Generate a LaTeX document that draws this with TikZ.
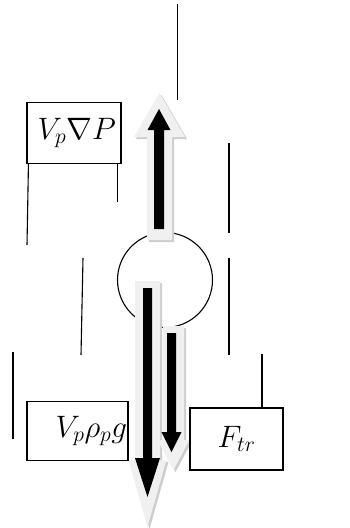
\RequirePackage{fix-cm}
\documentclass[tikz,border=0pt]{standalone}
\usepackage{xcolor}
\usepackage{tikz}
\usetikzlibrary{calc}
\definecolor{halogray}{RGB}{240, 240, 240}
\definecolor{shadowgray}{RGB}{205, 205, 205}

\tikzset{
    forcebox/.style={draw, line width=1.1pt, inner sep=0pt, font=\fontsize{31}{36}\selectfont},
    guide/.style={line width=1.1pt},
}

% fat arrow: style, x, tail y, head base y, tip y, shaft half width, head half width
\newcommand{\forcearrow}[7]{%
    \fill[#1] (#2-#6,#3) -- (#2+#6,#3) -- (#2+#6,#4) -- (#2+#7,#4) -- (#2,#5)
        -- (#2-#7,#4) -- (#2-#6,#4) -- cycle;}

\begin{document}
\begin{tikzpicture}[x=1pt, y=-1pt]
    \useasboundingbox (0,0) rectangle (350,528);

    % Particle
    \draw[guide] (165,280) circle (47.5);

    % Force arrows (shadow, halo, core)
    \forcearrow{shadowgray}{161.5}{242}{139}{95}{12.5}{25.5}
    \forcearrow{halogray}{159.5}{240}{137}{93}{12.5}{25.5}
    \forcearrow{black}{159}{229}{130}{109}{5}{11.5}

    \forcearrow{shadowgray}{149.5}{283}{462}{529}{12.5}{19}
    \forcearrow{halogray}{147.5}{281}{460}{527}{12.5}{19}
    \forcearrow{black}{147.5}{288}{458}{497}{4.5}{12.5}

    \forcearrow{shadowgray}{175.5}{328}{442}{472}{10.5}{16}
    \forcearrow{halogray}{173.5}{326}{440}{470}{10.5}{16}
    \forcearrow{black}{171.5}{333}{432}{452}{4.5}{10}

    % Labels
    \node[forcebox, minimum width=94pt, minimum height=61pt, text width=84pt, align=right] (fp) at (74,133) {$V_p\nabla P$};
    \node[forcebox, minimum width=101pt, minimum height=59pt, text width=99pt, align=right] (fg) at (77.5,431) {$V_p\rho_p g$};
    \node[forcebox, minimum width=93pt, minimum height=62pt] (ftr) at (236.5,439) {$F_{tr}$};

    % Guide lines
    \draw[guide] (177.5,4) -- (177.5,100);
    \draw[guide] (229,143) -- (229,233);
    \draw[guide] (229,258) -- (229,355);
    \draw[guide] ([xshift=2pt]fp.south west) -- (27,245);
    \draw[guide] ([xshift=-4pt]fp.south east) -- ++(0,38);
    \draw[guide] (83,258) -- (81,355);
    \draw[guide] (13,352) -- (13,439);
    \draw[guide] ([xshift=25.5pt]ftr.north) -- (262,354);
\end{tikzpicture}
\end{document}
